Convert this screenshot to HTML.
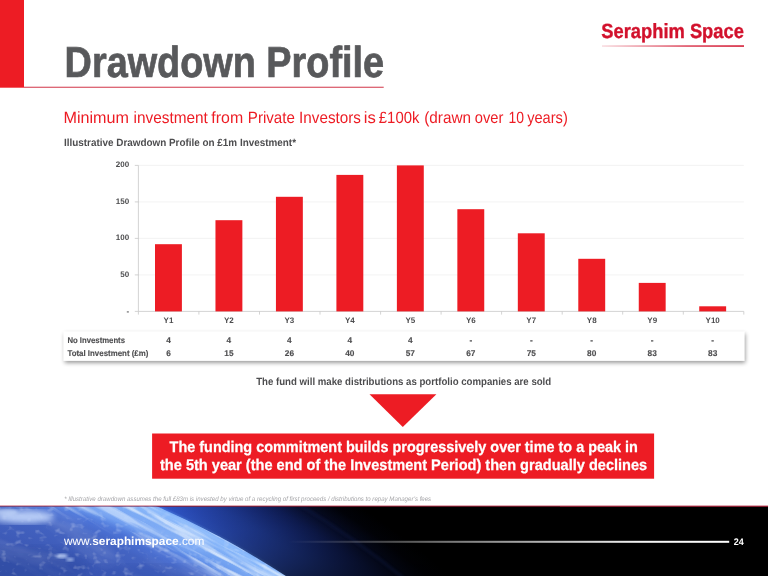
<!DOCTYPE html>
<html lang="en">
<head>
<meta charset="utf-8">
<title>Drawdown Profile</title>
<style>
  html, body { margin: 0; padding: 0; background: #ffffff; }
  body { width: 768px; height: 576px; overflow: hidden; }
  svg { display: block; }
  text { font-family: "Liberation Sans", sans-serif; text-rendering: geometricPrecision; }
  .b { font-weight: bold; }
  .ax { font-weight: bold; font-size: 8px; fill: #4d4d4f; }
  .tb { font-weight: bold; font-size: 8.3px; fill: #4d4d4f; stroke: #4d4d4f; stroke-width: 0.12px; }
</style>
</head>
<body>
<svg width="768" height="576" viewBox="0 0 768 576" style="opacity:0.9999">
  <defs>
    <linearGradient id="logoLine" x1="0" y1="0" x2="1" y2="0">
      <stop offset="0" stop-color="#d2112c" stop-opacity="0.15"/>
      <stop offset="0.6" stop-color="#d2112c" stop-opacity="0.8"/>
      <stop offset="1" stop-color="#d2112c" stop-opacity="1"/>
    </linearGradient>
    <linearGradient id="footLine" x1="0" y1="0" x2="1" y2="0">
      <stop offset="0" stop-color="#ffffff" stop-opacity="0"/>
      <stop offset="0.35" stop-color="#ffffff" stop-opacity="0.45"/>
      <stop offset="0.8" stop-color="#ffffff" stop-opacity="0.95"/>
      <stop offset="1" stop-color="#ffffff" stop-opacity="1"/>
    </linearGradient>
    <filter id="tblShadow" x="-5%" y="-30%" width="110%" height="170%">
      <feGaussianBlur in="SourceAlpha" stdDeviation="1.9"/>
      <feOffset dx="1.4" dy="1.5" result="o"/>
      <feComponentTransfer><feFuncA type="linear" slope="0.42"/></feComponentTransfer>
      <feMerge><feMergeNode/><feMergeNode in="SourceGraphic"/></feMerge>
    </filter>
  </defs>

  <!-- background -->
  <rect x="0" y="0" width="768" height="576" fill="#ffffff"/>

  <!-- HEADER -->
  <rect x="0" y="0" width="24" height="87.7" fill="#ed1c24"/>
  <rect x="24" y="86.75" width="359.7" height="0.95" fill="#cf2a3e"/>
  <text x="64.6" y="76.8" class="b" font-size="43.4" fill="#58595b" stroke="#58595b" stroke-width="0.7" textLength="319.5" lengthAdjust="spacingAndGlyphs">Drawdown Profile</text>

  <!-- logo -->
  <text x="601.3" y="38.1" class="b" font-size="20.6" fill="#d2112c" stroke="#d2112c" stroke-width="0.35" textLength="142.6" lengthAdjust="spacingAndGlyphs">Seraphim Space</text>
  <rect x="602" y="45.3" width="142" height="1.5" fill="url(#logoLine)"/>

  <!-- subtitle -->
  <g font-size="16.3" fill="#ed1c24">
    <text x="63.50" y="123.1" textLength="65.50" lengthAdjust="spacingAndGlyphs">Minimum</text>
    <text x="133.50" y="123.1" textLength="74.40" lengthAdjust="spacingAndGlyphs">investment</text>
    <text x="211.35" y="123.1" textLength="31.80" lengthAdjust="spacingAndGlyphs">from</text>
    <text x="247.85" y="123.1" textLength="47.05" lengthAdjust="spacingAndGlyphs">Private</text>
    <text x="299.10" y="123.1" textLength="61.80" lengthAdjust="spacingAndGlyphs">Investors</text>
    <text x="363.85" y="123.1" textLength="12.05" lengthAdjust="spacingAndGlyphs">is</text>
    <text x="378.85" y="123.1" textLength="40.55" lengthAdjust="spacingAndGlyphs">£100k</text>
    <text x="424.20" y="123.1" textLength="46.80" lengthAdjust="spacingAndGlyphs">(drawn</text>
    <text x="474.85" y="123.1" textLength="28.55" lengthAdjust="spacingAndGlyphs">over</text>
    <text x="508.50" y="123.1" textLength="15.50" lengthAdjust="spacingAndGlyphs">10</text>
    <text x="527.20" y="123.1" textLength="40.60" lengthAdjust="spacingAndGlyphs">years)</text>
  </g>
  <text x="64" y="146.1" class="b" font-size="10.5" fill="#4d4d4f" textLength="232" lengthAdjust="spacingAndGlyphs">Illustrative Drawdown Profile on £1m Investment*</text>

  <!-- CHART -->
  <g id="chart" transform="translate(0,0.3)">
    <!-- gridlines -->
    <g stroke="#f0f0f0" stroke-width="0.8">
      <line x1="138.4" y1="165.1" x2="743.8" y2="165.1"/>
      <line x1="138.4" y1="201.6" x2="743.8" y2="201.6"/>
      <line x1="138.4" y1="238.1" x2="743.8" y2="238.1"/>
      <line x1="138.4" y1="274.6" x2="743.8" y2="274.6"/>
    </g>
    <!-- axes -->
    <g stroke="#c8c8c8" stroke-width="0.8">
      <line x1="138.4" y1="165.1" x2="138.4" y2="311.1"/>
      <line x1="138.4" y1="311.1" x2="743.8" y2="311.1"/>
      <!-- y ticks -->
      <line x1="134.8" y1="165.1" x2="138.4" y2="165.1"/>
      <line x1="134.8" y1="201.6" x2="138.4" y2="201.6"/>
      <line x1="134.8" y1="238.1" x2="138.4" y2="238.1"/>
      <line x1="134.8" y1="274.6" x2="138.4" y2="274.6"/>
      <line x1="134.8" y1="311.1" x2="138.4" y2="311.1"/>
      <!-- x ticks -->
      <line x1="138.4" y1="311.1" x2="138.4" y2="314.3"/>
      <line x1="198.9" y1="311.1" x2="198.9" y2="314.3"/>
      <line x1="259.5" y1="311.1" x2="259.5" y2="314.3"/>
      <line x1="320.0" y1="311.1" x2="320.0" y2="314.3"/>
      <line x1="380.6" y1="311.1" x2="380.6" y2="314.3"/>
      <line x1="441.1" y1="311.1" x2="441.1" y2="314.3"/>
      <line x1="501.6" y1="311.1" x2="501.6" y2="314.3"/>
      <line x1="562.2" y1="311.1" x2="562.2" y2="314.3"/>
      <line x1="622.7" y1="311.1" x2="622.7" y2="314.3"/>
      <line x1="683.3" y1="311.1" x2="683.3" y2="314.3"/>
      <line x1="743.8" y1="311.1" x2="743.8" y2="314.3"/>
    </g>
    <!-- bars -->
    <g fill="#ed1c24">
      <rect x="155.00" y="243.9" width="26.9" height="67.2"/>
      <rect x="215.47" y="219.9" width="26.9" height="91.2"/>
      <rect x="275.94" y="196.5" width="26.9" height="114.6"/>
      <rect x="336.41" y="174.6" width="26.9" height="136.5"/>
      <rect x="396.88" y="165.1" width="26.9" height="146.0"/>
      <rect x="457.35" y="208.9" width="26.9" height="102.2"/>
      <rect x="517.82" y="233.0" width="26.9" height="78.1"/>
      <rect x="578.29" y="258.5" width="26.9" height="52.6"/>
      <rect x="638.76" y="282.6" width="26.9" height="28.5"/>
      <rect x="699.23" y="306.0" width="26.9" height="5.1"/>
    </g>
    <!-- y labels -->
    <g class="ax" text-anchor="end">
      <text x="129.2" y="167.1">200</text>
      <text x="129.2" y="203.6">150</text>
      <text x="129.2" y="240.1">100</text>
      <text x="129.2" y="276.6">50</text>
      <text x="129.2" y="313.6">-</text>
    </g>
    <!-- x labels -->
    <g class="ax" text-anchor="middle">
      <text x="168.45" y="323.0">Y1</text>
      <text x="228.92" y="323.0">Y2</text>
      <text x="289.39" y="323.0">Y3</text>
      <text x="349.86" y="323.0">Y4</text>
      <text x="410.33" y="323.0">Y5</text>
      <text x="470.80" y="323.0">Y6</text>
      <text x="531.27" y="323.0">Y7</text>
      <text x="591.74" y="323.0">Y8</text>
      <text x="652.21" y="323.0">Y9</text>
      <text x="712.68" y="323.0">Y10</text>
    </g>
  </g>

  <!-- TABLE -->
  <rect x="63.7" y="331.7" width="680.6" height="29.1" fill="#ffffff" filter="url(#tblShadow)"/>
  <g class="tb">
    <text x="67.4" y="342.7" textLength="57.6" lengthAdjust="spacingAndGlyphs">No Investments</text>
    <text x="67.4" y="355.8" textLength="81" lengthAdjust="spacingAndGlyphs">Total Investment (£m)</text>
  </g>
  <g class="tb" text-anchor="middle">
    <text x="168.45" y="342.7">4</text>
    <text x="228.92" y="342.7">4</text>
    <text x="289.39" y="342.7">4</text>
    <text x="349.86" y="342.7">4</text>
    <text x="410.33" y="342.7">4</text>
    <text x="470.80" y="342.7">-</text>
    <text x="531.27" y="342.7">-</text>
    <text x="591.74" y="342.7">-</text>
    <text x="652.21" y="342.7">-</text>
    <text x="712.68" y="342.7">-</text>
    <text x="168.45" y="355.8">6</text>
    <text x="228.92" y="355.8">15</text>
    <text x="289.39" y="355.8">26</text>
    <text x="349.86" y="355.8">40</text>
    <text x="410.33" y="355.8">57</text>
    <text x="470.80" y="355.8">67</text>
    <text x="531.27" y="355.8">75</text>
    <text x="591.74" y="355.8">80</text>
    <text x="652.21" y="355.8">83</text>
    <text x="712.68" y="355.8">83</text>
  </g>

  <!-- CALLOUT -->
  <text x="256.2" y="385" class="b" font-size="10.5" fill="#4d4d4f" textLength="295" lengthAdjust="spacingAndGlyphs">The fund will make distributions as portfolio companies are sold</text>
  <polygon points="369.5,394.3 436.4,394.3 402.8,427" fill="#ed1c24"/>
  <rect x="152.1" y="433.5" width="502" height="45.2" fill="#ed1c24"/>
  <text x="169.6" y="451.5" class="b" font-size="15.4" fill="#ffffff" stroke="#ffffff" stroke-width="0.25" textLength="468.3" lengthAdjust="spacingAndGlyphs">The funding commitment builds progressively over time to a peak in</text>
  <text x="160" y="470.2" class="b" font-size="15.4" fill="#ffffff" stroke="#ffffff" stroke-width="0.25" textLength="487.2" lengthAdjust="spacingAndGlyphs">the 5th year (the end of the Investment Period) then gradually declines</text>

  <!-- footnote -->
  <text x="64.2" y="500.6" font-style="italic" font-size="6.6" fill="#a6a6a9" textLength="367" lengthAdjust="spacingAndGlyphs">* Illustrative drawdown assumes the full £83m is invested by virtue of a recycling of first proceeds / distributions to repay Manager’s fees</text>

  <!-- FOOTER -->
  <defs>
    <clipPath id="footClip"><rect x="0" y="506.8" width="768" height="69.2"/></clipPath>
    <clipPath id="earthClip"><circle cx="-205" cy="1331" r="900.5"/></clipPath>
    <!-- atmosphere glow beyond the limb (r measured from earth centre) -->
    <radialGradient id="atmo" gradientUnits="userSpaceOnUse" cx="-205" cy="1331" r="1100">
      <stop offset="0.8170" stop-color="#5a8cf0"/>
      <stop offset="0.8188" stop-color="#4270dc"/>
      <stop offset="0.8210" stop-color="#2f55c8"/>
      <stop offset="0.8290" stop-color="#2849b4"/>
      <stop offset="0.8409" stop-color="#203c98"/>
      <stop offset="0.8545" stop-color="#162a74"/>
      <stop offset="0.8655" stop-color="#0f1d56"/>
      <stop offset="0.8800" stop-color="#060c26"/>
      <stop offset="0.8955" stop-color="#010208"/>
      <stop offset="0.9090" stop-color="#000000"/>
    </radialGradient>
    <!-- earth surface shading: mid blue interior, brightening at the limb -->
    <radialGradient id="earth" gradientUnits="userSpaceOnUse" cx="-205" cy="1331" r="900.5">
      <stop offset="0.844" stop-color="#344e9e"/>
      <stop offset="0.900" stop-color="#3c58b4"/>
      <stop offset="0.940" stop-color="#4363c2"/>
      <stop offset="0.956" stop-color="#4b72d6"/>
      <stop offset="0.968" stop-color="#6796ec"/>
      <stop offset="0.985" stop-color="#7cacf5"/>
      <stop offset="0.997" stop-color="#8abafc"/>
      <stop offset="1" stop-color="#7aacf8"/>
    </radialGradient>
    <filter id="clouds" x="0" y="0" width="100%" height="100%" filterUnits="objectBoundingBox">
      <feTurbulence type="fractalNoise" baseFrequency="0.012 0.045" numOctaves="4" seed="11" result="n"/>
      <feColorMatrix in="n" type="matrix" values="0 0 0 0 1  0 0 0 0 1  0 0 0 0 1  2.6 0 0 0 -1.05"/>
    </filter>
    <filter id="specks" x="0" y="0" width="100%" height="100%">
      <feTurbulence type="fractalNoise" baseFrequency="0.13 0.17" numOctaves="2" seed="5" result="n"/>
      <feColorMatrix in="n" type="matrix" values="0 0 0 0 1  0 0 0 0 1  0 0 0 0 1  0 3.4 0 0 -1.95"/>
      <feGaussianBlur stdDeviation="0.7"/>
    </filter>
    <filter id="streaks" x="0" y="0" width="100%" height="100%">
      <feTurbulence type="fractalNoise" baseFrequency="0.014 0.17" numOctaves="3" seed="23" result="n"/>
      <feColorMatrix in="n" type="matrix" values="0 0 0 0 0.88  0 0 0 0 0.94  0 0 0 0 1  0 0 3.8 0 -1.62"/>
    </filter>
    <radialGradient id="limbMaskG" gradientUnits="userSpaceOnUse" cx="-205" cy="1331" r="900.5">
      <stop offset="0.950" stop-color="#000"/>
      <stop offset="0.966" stop-color="#ddd"/>
      <stop offset="0.980" stop-color="#fff"/>
      <stop offset="1" stop-color="#fff"/>
    </radialGradient>
    <mask id="limbMask" maskUnits="userSpaceOnUse" x="0" y="500" width="420" height="80">
      <rect x="0" y="500" width="420" height="80" fill="url(#limbMaskG)"/>
    </mask>
    <linearGradient id="skyDark" x1="0" y1="0" x2="0" y2="1">
      <stop offset="0" stop-color="#000" stop-opacity="0"/>
      <stop offset="0.35" stop-color="#000" stop-opacity="0.18"/>
      <stop offset="1" stop-color="#000" stop-opacity="0.62"/>
    </linearGradient>
    <filter id="blur3"><feGaussianBlur stdDeviation="3"/></filter>
    <filter id="blur2"><feGaussianBlur stdDeviation="1.6"/></filter>
    <filter id="blur6"><feGaussianBlur stdDeviation="6"/></filter>
  </defs>
  <g id="footer">
    <rect x="0" y="505.6" width="768" height="1.6" fill="#b62b45"/>
    <g clip-path="url(#footClip)">
      <rect x="0" y="505" width="768" height="71" fill="#000000"/>
      <rect x="0" y="505" width="560" height="71" fill="url(#atmo)"/>
      <rect x="0" y="506" width="560" height="70" fill="url(#skyDark)"/>
      <g clip-path="url(#earthClip)">
        <rect x="0" y="505" width="420" height="71" fill="url(#earth)"/>
        <!-- darker ocean patches lower-left -->
        <ellipse cx="20" cy="568" rx="70" ry="20" fill="#2b469f" opacity="0.45" filter="url(#blur6)"/>
        <ellipse cx="150" cy="575" rx="60" ry="10" fill="#2f4ca8" opacity="0.35" filter="url(#blur6)"/>
        <!-- streaky clouds, rotated along the limb direction -->
        <g transform="rotate(24 150 540)" opacity="0.13">
          <rect x="-80" y="420" width="520" height="240" filter="url(#clouds)"/>
        </g>
        <rect x="0" y="505" width="300" height="71" filter="url(#specks)" opacity="0.26"/>
        <!-- fine streaks hugging the limb -->
        <g mask="url(#limbMask)">
          <g transform="rotate(28.5 200 540)" opacity="0.72">
            <rect x="-60" y="440" width="460" height="200" filter="url(#streaks)"/>
          </g>
        </g>
        <!-- top-left cloud bank -->
        <ellipse cx="24" cy="517" rx="30" ry="6.5" fill="#c4d8fc" opacity="0.9" filter="url(#blur3)"/>
        <ellipse cx="6" cy="512" rx="12" ry="3.5" fill="#cddffd" opacity="0.6" filter="url(#blur2)"/>
        <!-- long diagonal bright streak -->
        <polygon points="74,505 110,505 216,549 194,553" fill="#92bafa" opacity="0.4" filter="url(#blur3)"/>
        <polygon points="122,505 150,505 236,546 224,550" fill="#9cc2fc" opacity="0.25" filter="url(#blur3)"/>
        <!-- small cloud under the url -->
        <ellipse cx="62" cy="556" rx="6" ry="2.2" fill="#cfe0ff" opacity="0.8" filter="url(#blur2)"/>
        <ellipse cx="70" cy="559.5" rx="4" ry="1.8" fill="#cfe0ff" opacity="0.7" filter="url(#blur2)"/>
      </g>
      <!-- faint outer atmospheric band -->
      <circle cx="-205" cy="1331" r="968" fill="none" stroke="#1a2a6a" stroke-width="2" opacity="0.35" filter="url(#blur2)"/>
    </g>
    <rect x="288" y="540.8" width="441.2" height="2" fill="url(#footLine)"/>
    <text x="63.9" y="545" font-size="11.7" fill="#ffffff" textLength="140.4" lengthAdjust="spacingAndGlyphs"><tspan>www.</tspan><tspan font-weight="bold">seraphimspace</tspan><tspan>.com</tspan></text>
    <text x="733.8" y="545.2" class="b" font-size="9.5" fill="#ffffff" textLength="10" lengthAdjust="spacingAndGlyphs">24</text>
  </g>
</svg>
</body>
</html>
